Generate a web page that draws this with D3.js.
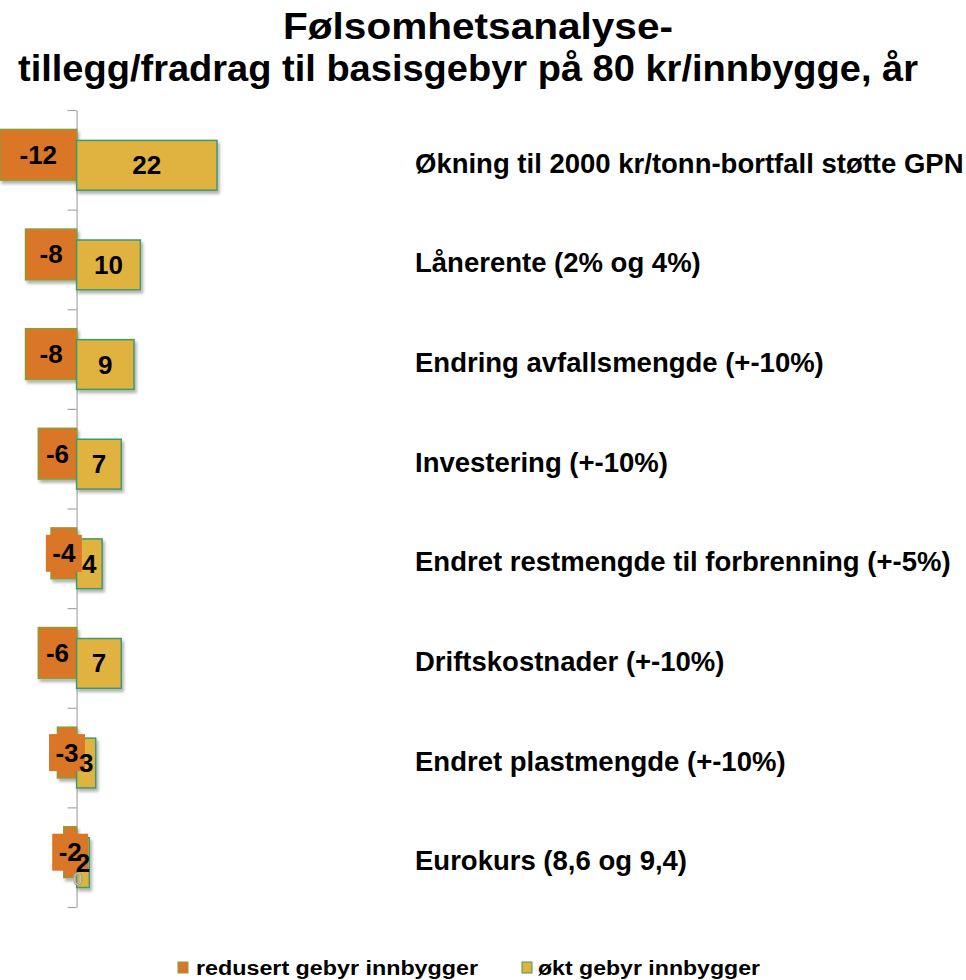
<!DOCTYPE html>
<html><head><meta charset="utf-8">
<script src="https://cdn.jsdelivr.net/npm/d3@7"></script>
<style>body{margin:0;background:#fff}svg{display:block}text{font-family:"Liberation Sans",Arial,sans-serif}</style>
</head><body>
<script>
const categories = [
  "Økning til 2000 kr/tonn-bortfall støtte GPN",
  "Lånerente (2% og 4%)",
  "Endring avfallsmengde (+-10%)",
  "Investering (+-10%)",
  "Endret restmengde til forbrenning (+-5%)",
  "Driftskostnader (+-10%)",
  "Endret plastmengde (+-10%)",
  "Eurokurs (8,6 og 9,4)"
];
const reduced = [-12, -8, -8, -6, -4, -6, -3, -2];
const increased = [22, 10, 9, 7, 4, 7, 3, 2];
const seriesNames = ["redusert gebyr innbygger", "økt gebyr innbygger"];
const titleLines = ["Følsomhetsanalyse-", "tillegg/fradrag til basisgebyr på 80 kr/innbygge, år"];
const strayLabel = "0";

const W = 966, H = 980;
const C = {orange:"#DA7628", orangeStroke:"#8A9E38", yellow:"#E0B23F", yellowStroke:"#3E9A6C"};

const svg = d3.select("body").append("svg").attr("width", W).attr("height", H);
const defs = svg.append("defs");
const f = defs.append("filter").attr("id","sh").attr("x","-20%").attr("y","-20%").attr("width","150%").attr("height","150%");
f.append("feDropShadow").attr("dx",2).attr("dy",3).attr("stdDeviation",1.6).attr("flood-color","#000").attr("flood-opacity",0.3);

// Title
const tl = [{t:titleLines[0], x:478, y:39, len:390},{t:titleLines[1], x:468, y:81, len:900}];
svg.selectAll("text.title").data(tl).join("text").attr("class","title")
  .attr("x",d=>d.x).attr("y",d=>d.y).attr("text-anchor","middle")
  .attr("font-size",37).attr("font-weight","bold").attr("fill","#000")
  .attr("textLength",d=>d.len).attr("lengthAdjust","spacingAndGlyphs").text(d=>d.t);

const x = d3.scaleLinear().domain([-12, 22]).range([0, 217]);
const y = d3.scaleBand().domain(categories).range([110, 907]).paddingInner(0).paddingOuter(0);
const bw = y.bandwidth();
const x0 = x(0);

const data = categories.map((c,i)=>({c, r:reduced[i], p:increased[i]}));

// Axis
const tickScale = d3.scaleLinear().domain([0, categories.length]).range([110, 907]);
const axisG = svg.append("g").attr("transform",`translate(${x0},0)`)
  .call(d3.axisLeft(tickScale).tickValues(d3.range(categories.length+1)).tickFormat("").tickSize(9).tickSizeOuter(0));
axisG.selectAll("path,line").attr("stroke","#a6a6a6").attr("stroke-width",1.2);

// Bars
const oy = c => y(c) + bw*0.195, oh = bw*0.51;
const yy = c => y(c) + bw*0.305, yh = bw*0.5;

svg.append("g").selectAll("rect").data(data).join("rect")
  .attr("x",d=>x(d.r)).attr("y",d=>oy(d.c)).attr("width",d=>x0-x(d.r)).attr("height",oh)
  .attr("fill",C.orange).attr("stroke",C.orangeStroke).attr("stroke-width",1.5).attr("filter","url(#sh)");
svg.append("g").selectAll("rect").data(data).join("rect")
  .attr("x",x0).attr("y",d=>yy(d.c)).attr("width",d=>x(d.p)-x0).attr("height",yh)
  .attr("fill",C.yellow).attr("stroke",C.yellowStroke).attr("stroke-width",1.5).attr("filter","url(#sh)");

// Orange label boxes
const boxW = 36, boxH = 37;
svg.append("g").selectAll("rect").data(data).join("rect")
  .attr("x",d=>(x(d.r)+x0)/2 - boxW/2).attr("y",d=>oy(d.c)+oh/2-boxH/2)
  .attr("width",boxW).attr("height",boxH).attr("fill",C.orange);

// Labels
svg.append("g").selectAll("text").data(data).join("text")
  .attr("x",d=>(x(d.r)+x0)/2).attr("y",d=>oy(d.c)+oh/2+9)
  .attr("text-anchor","middle").attr("font-size",26).attr("font-weight","bold").text(d=>d.r);
svg.append("g").selectAll("text").data(data).join("text")
  .attr("x",d=>(x(d.p)+x0)/2).attr("y",d=>yy(d.c)+yh/2+9)
  .attr("text-anchor","middle").attr("font-size",26).attr("font-weight","bold").text(d=>d.p);

// stray zero label
const last = categories[categories.length-1];
svg.append("text").attr("x",x0+1).attr("y",yy(last)+yh-3).attr("text-anchor","middle")
  .attr("font-size",16).attr("fill","#fff").attr("stroke","#8c8c8c").attr("stroke-width",0.7).text(strayLabel);

// Category labels
svg.append("g").selectAll("text").data(categories).join("text")
  .attr("x",415).attr("y",c=>y(c)+bw/2+13)
  .attr("font-size",27.5).attr("font-weight","bold").attr("fill","#000").text(c=>c);

// Legend
const leg = [
  {name:seriesNames[0], fill:C.orange, stroke:C.orangeStroke, mx:178, tx:196, len:282},
  {name:seriesNames[1], fill:C.yellow, stroke:C.yellowStroke, mx:522, tx:538, len:222}
];
const lg = svg.append("g").selectAll("g").data(leg).join("g");
lg.append("rect").attr("x",d=>d.mx).attr("y",962).attr("width",10).attr("height",11)
  .attr("fill",d=>d.fill).attr("stroke",d=>d.stroke).attr("stroke-width",1);
lg.append("text").attr("x",d=>d.tx).attr("y",975).attr("font-size",20).attr("font-weight","bold")
  .attr("textLength",d=>d.len).attr("lengthAdjust","spacingAndGlyphs").text(d=>d.name);
</script>
</body></html>
